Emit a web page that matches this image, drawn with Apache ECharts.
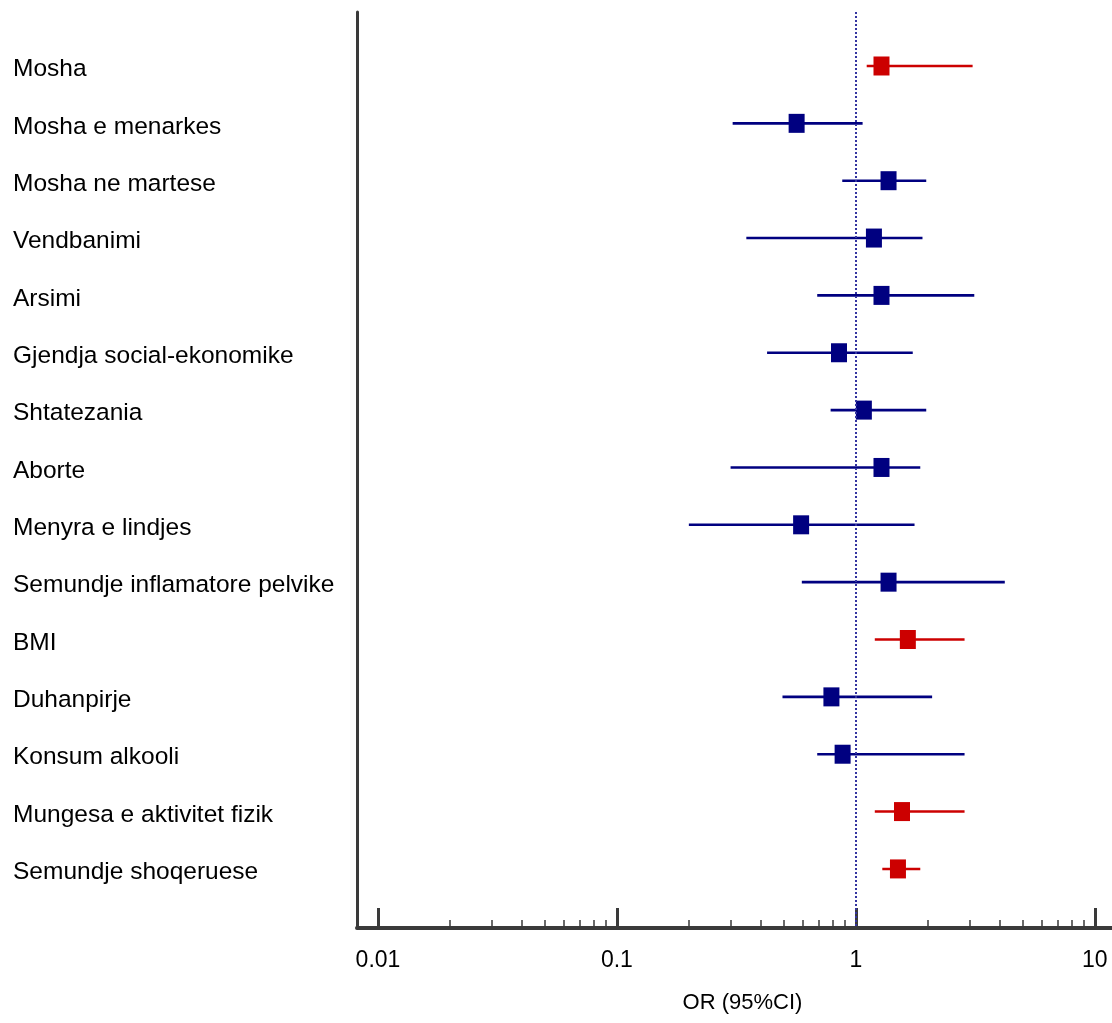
<!DOCTYPE html>
<html>
<head>
<meta charset="utf-8">
<style>
  html, body { margin: 0; padding: 0; background: #ffffff; }
  #chart { width: 1112px; height: 1023px; }
</style>
<script src="https://cdn.jsdelivr.net/npm/echarts@6/dist/echarts.min.js"></script>
</head>
<body>
<div id="chart"></div>
<script>
// ---- data ----
const categories = [
  'Mosha', 'Mosha e menarkes', 'Mosha ne martese', 'Vendbanimi', 'Arsimi',
  'Gjendja social-ekonomike', 'Shtatezania', 'Aborte', 'Menyra e lindjes',
  'Semundje inflamatore pelvike', 'BMI', 'Duhanpirje', 'Konsum alkooli',
  'Mungesa e aktivitet fizik', 'Semundje shoqeruese'
];
const orValues = [1.28, 0.565, 1.37, 1.19, 1.28, 0.85, 1.08, 1.28, 0.59, 1.37, 1.65, 0.79, 0.88, 1.56, 1.50];
const ciLow    = [1.11, 0.305, 0.877, 0.348, 0.689, 0.425, 0.784, 0.299, 0.20, 0.594, 1.20, 0.493, 0.689, 1.20, 1.29];
const ciHigh   = [3.08, 1.067, 1.97, 1.90, 3.13, 1.73, 1.97, 1.86, 1.76, 4.20, 2.85, 2.085, 2.85, 2.85, 1.86];
const xTickValues = [0.01, 0.1, 1, 10];
const xTickLabels = ['0.01', '0.1', '1', '10'];
const xMin = 0.00817;
const xMax = 11.8;

// ---- build ----
const L = Math.log10;
const RED = '#cc0000';
const NAVY = '#000080';
const rows = categories.map((c, i) => i + 1);
const colorOf = i => (ciLow[i] > 1 ? RED : NAVY);

const minorTicks = [];
for (let d = -2; d <= 0; d++) {
  for (let k = 2; k <= 9; k++) minorTicks.push(L(k * Math.pow(10, d)));
}

const ciData = categories.map((c, i) => ({
  value: [L(ciLow[i]), L(ciHigh[i]), rows[i]],
  itemStyle: { color: colorOf(i) }
}));
const pointData = categories.map((c, i) => ({
  value: [L(orValues[i]), rows[i]],
  itemStyle: { color: colorOf(i), opacity: 1 }
}));

const fontFam = '"Liberation Sans", Arial, sans-serif';
const axisColor = '#3a3a3a';

const option = {
  animation: false,
  backgroundColor: '#ffffff',
  grid: { left: 357, right: 0, top: 12, bottom: 95 },
  xAxis: [
    {
      type: 'value',
      min: L(xMin), max: L(xMax),
      position: 'bottom',
      axisLine: { show: true, onZero: false, lineStyle: { color: axisColor, width: 4 } },
      axisTick: { show: true, inside: true, length: 20, customValues: xTickValues.map(L),
                  lineStyle: { color: axisColor, width: 3 } },
      axisLabel: { show: true, customValues: xTickValues.map(L), margin: 21,
                   formatter: v => xTickLabels[xTickValues.map(L).findIndex(t => Math.abs(t - v) < 1e-6)],
                   color: '#000', fontSize: 23, fontFamily: fontFam },
      splitLine: { show: false },
      name: 'OR (95%CI)', nameLocation: 'middle', nameGap: 64,
      nameTextStyle: { color: '#000', fontSize: 22, fontFamily: fontFam, padding: [0, 0, 0, 16] }
    },
    {
      type: 'value',
      min: L(xMin), max: L(xMax),
      position: 'bottom',
      axisLine: { show: false, onZero: false },
      axisTick: { show: true, inside: true, length: 8, customValues: minorTicks,
                  lineStyle: { color: axisColor, width: 1.5 } },
      axisLabel: { show: false },
      splitLine: { show: false }
    }
  ],
  yAxis: {
    type: 'value',
    inverse: true,
    min: 0.0586, max: 16.03,
    axisLine: { show: true, onZero: false, lineStyle: { color: axisColor, width: 3 } },
    axisTick: { show: false },
    splitLine: { show: false },
    axisLabel: {
      show: true, customValues: rows.map(r => r + 0.06), align: 'left', margin: 344,
      formatter: v => categories[Math.round(v) - 1] || '',
      color: '#000', fontSize: 24.5, fontFamily: fontFam
    }
  },
  series: [
    {
      type: 'custom',
      xAxisIndex: 0,
      z: 2,
      data: ciData,
      renderItem: (params, api) => {
        const p1 = api.coord([api.value(0), api.value(2)]);
        const p2 = api.coord([api.value(1), api.value(2)]);
        return {
          type: 'line',
          shape: { x1: p1[0], y1: p1[1], x2: p2[0], y2: p2[1] },
          style: { stroke: api.visual('color'), lineWidth: 2.6 }
        };
      },
      markLine: {
        silent: true,
        symbol: ['none', 'none'],
        label: { show: false },
        lineStyle: { color: '#3434a0', type: [2, 2], width: 2, opacity: 1 },
        data: [{ xAxis: 0 }]
      }
    },
    {
      type: 'scatter',
      xAxisIndex: 0,
      z: 3,
      symbol: 'rect',
      symbolSize: [16, 19],
      itemStyle: { opacity: 1 },
      data: pointData
    }
  ]
};

const chart = echarts.init(document.getElementById('chart'), null, { renderer: 'canvas' });
chart.setOption(option);
</script>
</body>
</html>
